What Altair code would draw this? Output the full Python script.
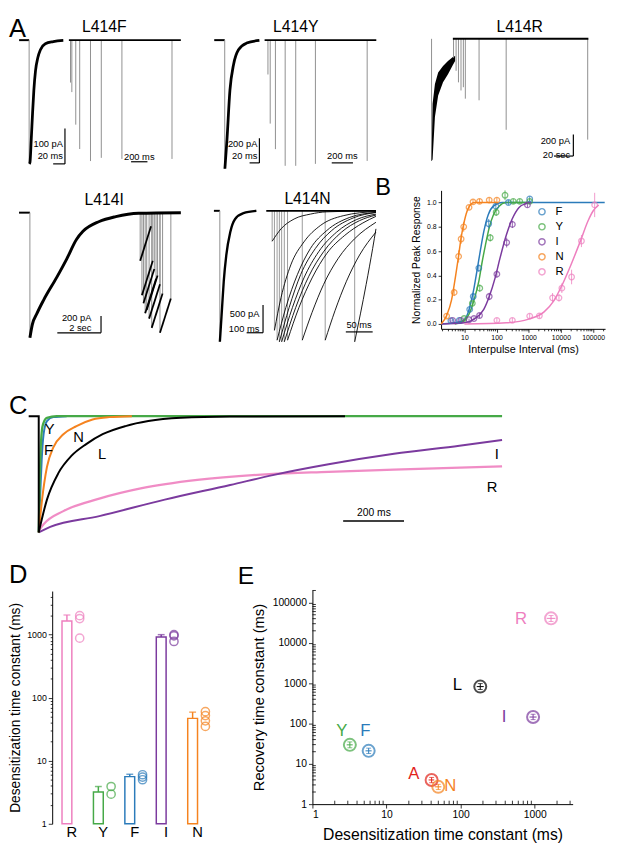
import altair as alt
import pandas as pd

FONT = "Liberation Sans"
PINK = "#ee7fbf"; GREEN = "#46a947"; BLUE = "#2b7bba"; PURPLE = "#7b3a9e"
ORANGE = "#f5831f"; RED = "#e2231a"; GRAY = "#8f8f8f"; BLACK = "#000000"

# ================= DATA =================
# ---- A: L414F (initial: ms / pA ; recovery: ms / pA)
F_base_t = [-17, 0]
F_peak = -350
F_dec_t = [0.3, 1.4, 3.6, 5.8, 8.0, 10.8, 14.7, 19.2, 27.5, 41, 58]
F_dec_pA = [-350, -346, -281, -207, -142, -87, -50, -27, -10, -4, -1]
F_rec_base_t = [0, 1368]
F_rec_on = [20, 36, 84, 132, 264, 396, 648, 1260]
F_rec_pk = [-120, -147, -239, -308, -342, -333, -336, -336]

# ---- A: L414Y
Y_base_t = [-21.4, 0]
Y_peak = -1048
Y_dec_t = [0.3, 4.6, 10.6, 18, 28, 44.6, 70.6]
Y_dec_pA = [-1048, -808, -408, -198, -78, -24, -2]
Y_rec_base_t = [0, 1053]
Y_rec_on = [31.5, 52.8, 102, 194, 293.5, 479, 967]
Y_rec_pk = [-280, -680, -888, -1024, -1024, -1008, -984]

# ---- A: L414R (initial: s ; recovery: s)
R_peak = -1130
R_env_t = [0, 0.13, 0.43, 0.84, 1.46, 2.09, 2.71, 3.0]
R_env_hi = [-1130, -600, -418, -312, -251, -205, -169, -160]
R_env_lo = [-1130, -1116, -721, -524, -403, -327, -242, -205]
R_rec_base_t = [0, 138]
R_rec_on = [0.7, 3.3, 5.7, 8.3, 10.7, 12.7, 26.7, 54.3, 137.3]
R_rec_pk = [-175, -296, -403, -478, -448, -554, -569, -842, -933]

# ---- A: L414I (s / pA)
I_base_t = [-0.5, 0]
I_peak = -1498
I_dec_t = [0, 0.11, 0.33, 0.63, 1.24, 1.69, 2.14, 2.44, 3.19, 3.95, 5.0, 6.94]
I_dec_pA = [-1498, -1341, -1204, -1047, -772, -556, -321, -224, -106, -47, -7, 0]
I_rec_on = [5.07, 5.15, 5.22, 5.30, 5.37, 5.48, 5.60, 5.98]
I_rec_pk = [-576, -988, -1086, -1204, -1165, -1269, -1380, -1439]
I_rec_off = [5.57, 5.65, 5.72, 5.80, 5.87, 5.98, 6.10, 6.48]
I_rec_end = [-164, -576, -674, -792, -753, -857, -968, -1027]

# ---- A: L414N (ms / pA)
N_base_t = [-36, 0]
N_peak = -2351
N_dec_t = [0.3, 3.6, 13.8, 24, 39.5, 63.5, 93.4, 144, 223]
N_dec_pA = [-2351, -2205, -1734, -1265, -794, -383, -146, -41, 0]
N_rec_base_t = [0, 206.8]
N_sw_t = [
    [11.1, 27.8, 52.5, 83.3, 114.2, 206.8],
    [15.4, 27.8, 46.3, 71.0, 101.9, 145.0, 206.8],
    [20.4, 37.0, 58.6, 83.3, 114.2, 157.4, 206.8],
    [24.7, 43.2, 64.8, 92.6, 123.5, 163.6, 206.8],
    [29.0, 49.4, 71.0, 98.8, 132.7, 169.8, 206.8],
    [34.0, 55.6, 80.2, 108.0, 142.0, 175.9, 206.8],
    [40.1, 61.7, 86.4, 114.2, 148.0, 182.1, 206.8],
    [67.9, 86.4, 108.0, 135.8, 166.7, 206.8],
    [111.1, 129.6, 151.2, 175.9, 206.8],
    [166.7, 188.3, 200.6, 206.8],
]
N_sw_pA = [
    [-547, -324, -147, -59, -18, 0],
    [-2147, -1559, -971, -559, -265, -88, -12],
    [-2324, -1735, -1147, -676, -353, -118, -29],
    [-2353, -1735, -1147, -676, -353, -129, -29],
    [-2353, -1735, -1206, -735, -382, -159, -59],
    [-2353, -1735, -1176, -735, -382, -176, -76],
    [-2324, -1735, -1206, -765, -441, -218, -100],
    [-2324, -1824, -1324, -853, -500, -206],
    [-2324, -1794, -1265, -794, -382],
    [-2353, -1324, -676, -324],
]

# ---- B: recovery from desensitization
B_series = ["F", "Y", "I", "N", "R"]
B_colors = [BLUE, GREEN, PURPLE, ORANGE, PINK]
B_x = {
    "F": [3.8, 6.9, 14.6, 18.8, 28, 57, 95, 233, 1070],
    "Y": [9.8, 17.6, 30, 63.5, 97, 183, 330, 525, 1070],
    "I": [4.3, 7.7, 13.9, 19.8, 29.5, 59, 102, 206, 309, 910],
    "N": [2.8, 4.8, 6.6, 7.9, 9.5, 13.9, 18.5, 29.5, 59, 102],
    "R": [102, 309, 1070, 2140, 5500, 8700, 10700, 21500, 43500, 112000],
}
B_y = {
    "F": [0.027, 0.03, 0.12, 0.226, 0.46, 0.825, 0.97, 1.0, 1.03],
    "Y": [0.045, 0.17, 0.295, 0.71, 0.92, 1.06, 1.01, 1.01, 1.01],
    "I": [0.03, 0.03, 0.035, 0.045, 0.07, 0.226, 0.41, 0.67, 0.82, 0.98],
    "N": [0.065, 0.26, 0.556, 0.70, 0.80, 0.96, 1.005, 1.01, 1.02, 1.02],
    "R": [0.03, 0.03, 0.065, 0.067, 0.215, 0.215, 0.295, 0.387, 0.683, 0.98],
}
B_err = {
    "F": [0.01, 0.01, 0.02, 0.03, 0.03, 0.04, 0.03, 0.02, 0.02],
    "Y": [0.01, 0.02, 0.03, 0.03, 0.03, 0.04, 0.02, 0.02, 0.02],
    "I": [0.01, 0.01, 0.01, 0.01, 0.02, 0.03, 0.03, 0.04, 0.03, 0.02],
    "N": [0.02, 0.03, 0.05, 0.04, 0.04, 0.02, 0.02, 0.02, 0.02, 0.02],
    "R": [0.02, 0.02, 0.02, 0.02, 0.04, 0.03, 0.04, 0.06, 0.05, 0.10],
}
B_fit_x = {
    "F": [1.9, 8, 12, 16, 20, 25, 32, 40, 55, 80, 150, 230000],
    "Y": [5, 10, 15, 20, 28, 35, 45, 60, 80, 120, 200, 1100],
    "I": [1.9, 10, 20, 40, 60, 90, 130, 200, 300, 500, 800, 1200],
    "N": [1.9, 2.8, 4, 5, 6.5, 8, 10, 13, 20, 110],
    "R": [10, 200, 1000, 3000, 6000, 10000, 20000, 40000, 70000, 100000, 150000],
}
B_fit_y = {
    "F": [0.0, 0.02, 0.07, 0.18, 0.3, 0.45, 0.62, 0.76, 0.9, 0.97, 1.0, 1.0],
    "Y": [0.0, 0.03, 0.1, 0.2, 0.35, 0.5, 0.65, 0.8, 0.9, 0.97, 1.0, 1.0],
    "I": [0.0, 0.01, 0.04, 0.12, 0.23, 0.38, 0.55, 0.73, 0.86, 0.96, 0.99, 1.0],
    "N": [0.0, 0.07, 0.2, 0.35, 0.55, 0.72, 0.85, 0.95, 1.0, 1.0],
    "R": [0.0, 0.01, 0.04, 0.1, 0.19, 0.3, 0.48, 0.68, 0.85, 0.93, 0.98],
}

# ---- C: normalized desensitization traces (ms / normalized current)
C_L_drop_t = [-33, 0, 0]
C_L_drop_v = [0, 0, -1]
C_L_t = [0, 27, 64.5, 108, 156, 210, 285, 360, 467, 628, 1006]
C_L_v = [-1, -0.718, -0.49, -0.34, -0.24, -0.155, -0.085, -0.042, -0.014, -0.003, 0]
C_N_t = [0, 11, 27, 48, 81, 124, 177, 231, 306]
C_N_v = [-1, -0.718, -0.437, -0.268, -0.155, -0.085, -0.028, -0.008, 0]
C_Y_t = [0, 3.2, 7.7, 14, 27, 59, 1522]
C_Y_v = [-1, -0.577, -0.211, -0.07, -0.014, 0, 0]
C_F_t = [0, 4.3, 9.7, 16, 27, 48, 92]
C_F_v = [-1, -0.718, -0.38, -0.155, -0.042, -0.008, 0]
C_I_t = [0, 37.7, 199, 414, 629, 769, 952, 1167, 1382, 1522]
C_I_v = [-1, -0.953, -0.86, -0.718, -0.592, -0.507, -0.414, -0.324, -0.254, -0.205]
C_R_t = [0, 16, 81, 199, 339, 521, 758, 952, 1167, 1522]
C_R_v = [-0.986, -0.93, -0.817, -0.71, -0.62, -0.549, -0.499, -0.479, -0.459, -0.431]

# ---- D: desensitization time constants
D_cats = ["R", "Y", "F", "I", "N"]
D_colors = [PINK, GREEN, BLUE, PURPLE, ORANGE]
D_mean = [1650, 3.2, 5.6, 920, 47]
D_errtop = [2050, 3.9, 6.1, 1000, 59]
D_pt_cat = ["R", "R", "R", "Y", "Y", "F", "F", "F", "I", "I", "I", "N", "N", "N", "N"]
D_pt_val = [2000, 1800, 880, 3.9, 2.95, 6.0, 5.5, 5.0, 1000, 960, 780, 60, 52, 43, 35]

# ---- E: recovery vs desensitization
E_names = ["R", "L", "I", "Y", "F", "A", "N"]
E_colors = [PINK, BLACK, PURPLE, GREEN, BLUE, RED, ORANGE]
E_x = [1660, 184, 950, 3.2, 5.74, 40.6, 49.9]
E_y = [40700, 826, 145, 29.6, 21, 3.98, 2.69]
E_xlo = [1450, 165, 850, 2.9, 5.2, 37, 45]
E_xhi = [1900, 205, 1060, 3.5, 6.3, 44, 55]
E_ylo = [34000, 700, 125, 25, 18, 3.4, 2.3]
E_yhi = [48000, 980, 170, 35, 24.5, 4.6, 3.1]
E_lab_x = [653, 90.4, 387, 2.5, 5.19, 23.3, 72.6]
E_lab_y = [39300, 894, 145, 64.9, 64.9, 5.7, 2.84]

# ================= HELPERS =================
ONE = pd.DataFrame({"k": [0]})


def lin(dom, rng=None):
    if rng is None:
        return alt.Scale(domain=dom, nice=False, zero=False)
    return alt.Scale(domain=dom, range=rng, nice=False, zero=False)


def qx(xs, field="t"):
    return alt.X(f"{field}:Q", scale=xs, axis=None)


def qy(ys, field="v"):
    return alt.Y(f"{field}:Q", scale=ys, axis=None)


def trace(ts, vs, xs, ys, color, width, interp="linear", opacity=1.0):
    df = pd.DataFrame({"t": ts, "v": vs, "i": list(range(len(ts)))})
    return alt.Chart(df).mark_line(color=color, strokeWidth=width, interpolate=interp,
                                   opacity=opacity).encode(x=qx(xs), y=qy(ys), order="i:Q")


def multi(tl, vl, xs, ys, color, width, interp="monotone"):
    rows = []
    for g, (ts, vs) in enumerate(zip(tl, vl)):
        for i, (t, v) in enumerate(zip(ts, vs)):
            rows.append({"g": g, "i": i, "t": t, "v": v})
    df = pd.DataFrame(rows)
    return alt.Chart(df).mark_line(color=color, strokeWidth=width, interpolate=interp).encode(
        x=qx(xs), y=qy(ys), detail="g:N", order="i:Q")


def drops(ts, vs, xs, ys, color=GRAY, width=1.0):
    df = pd.DataFrame({"t": ts, "v": vs})
    return alt.Chart(df).mark_rule(color=color, strokeWidth=width).encode(
        x=qx(xs), y=qy(ys), y2=alt.Y2Datum(datum=0))


def segs(t, t2, v, v2, xs, ys, color=BLACK, width=1.2):
    df = pd.DataFrame({"t": t, "t2": t2, "v": v, "v2": v2})
    return alt.Chart(df).mark_rule(color=color, strokeWidth=width).encode(
        x=qx(xs), x2="t2:Q", y=qy(ys), y2="v2:Q")


def labels(words, ts, vs, xs, ys, size, align="center", color=BLACK):
    df = pd.DataFrame({"s": words, "t": ts, "v": vs})
    return alt.Chart(df).mark_text(fontSize=size, align=align, baseline="middle", color=color,
                                   font=FONT).encode(x=qx(xs), y=qy(ys), text="s:N")


def fixed_text(s, px, py, size, align="center", color=BLACK):
    return alt.Chart(ONE).mark_text(text=s, fontSize=size, align=align, baseline="middle",
                                    color=color, font=FONT).encode(x=alt.value(px), y=alt.value(py))


def band(ts, lo, hi, xs, ys, color):
    df = pd.DataFrame({"t": ts, "lo": lo, "hi": hi})
    return alt.Chart(df).mark_area(color=color).encode(x=qx(xs), y=qy(ys, "lo"), y2="hi:Q")


def panel(layers, w, h):
    return alt.layer(*layers).resolve_scale(x="independent", y="independent").properties(width=w, height=h)


def spacer(w, h):
    return alt.Chart(ONE).mark_point(opacity=0, size=1).encode(
        x=alt.value(w / 2), y=alt.value(h / 2)).properties(width=w, height=h)


# Layout: top-level flush vconcat; nested rows take no height, so rows 2 and C
# carry their vertical offset inside their own y-scale ranges.
R2 = 157          # row-2 top (px from chart top)
R3 = 362          # row-3 top
R4H = 552         # height of C block -> row 4 starts here

# ================= PANEL A =================
FXI = lin([-34.2, 285.8]); FXR = lin([-732, 1572]); FY = lin([-369.4, 66.7])
pF = panel([
    trace(F_base_t, [0, 0], FXI, FY, BLACK, 2),
    drops([0], [F_peak], FXI, FY, GRAY, 1),
    trace(F_dec_t, F_dec_pA, FXI, FY, BLACK, 2.8, "monotone"),
    drops(F_rec_on, F_rec_pk, FXR, FY, GRAY, 1),
    trace(F_rec_base_t, [0, 0], FXR, FY, BLACK, 2),
    segs([60.8, 40.8], [60.8, 60.8], [-250, -350], [-350, -350], FXI, FY),
    segs([760], [960], [-344], [-344], FXR, FY),
    labels(["100 pA", "20 ms"], [57.5, 57.5], [-293, -328], FXI, FY, 9.5, "right"),
    labels(["200 ms"], [860], [-330], FXR, FY, 9.5),
    fixed_text("L414F", 97, 11, 16),
    fixed_text("A", 0, 13, 26, "left"),
], 192, 157)

YXI = lin([-55.4, 364.6]); YXR = lin([-632.4, 1312]); YY = lin([-1064, 192])
pY = panel([
    trace(Y_base_t, [0, 0], YXI, YY, BLACK, 2),
    drops([0], [Y_peak], YXI, YY, GRAY, 1),
    trace(Y_dec_t, Y_dec_pA, YXI, YY, BLACK, 2.8, "monotone"),
    drops(Y_rec_on, Y_rec_pk, YXR, YY, GRAY, 1),
    trace(Y_rec_base_t, [0, 0], YXR, YY, BLACK, 2),
    segs([70.6, 50.6], [70.6, 70.6], [-800, -1000], [-1000, -1000], YXI, YY),
    segs([633], [833], [-1000], [-1000], YXR, YY),
    labels(["200 pA", "20 ms"], [66.6, 66.6], [-844, -948], YXI, YY, 9.5, "right"),
    labels(["200 ms"], [733], [-944], YXR, YY, 9.5),
    fixed_text("L414Y", 100, 11, 16),
], 210, 157)

RXI = lin([-3.54, 21.34]); RXR = lin([-50, 149]); RY = lin([-1221, 206])
pR = panel([
    drops([0], [R_peak], RXI, RY, GRAY, 1),
    band(R_env_t, R_env_lo, R_env_hi, RXI, RY, BLACK),
    drops(R_rec_on, R_rec_pk, RXR, RY, GRAY, 1),
    trace(R_rec_base_t, [0, 0], RXR, RY, BLACK, 2),
    segs([122.7, 103], [122.7, 122.7], [-885, -1085], [-1085, -1085], RXR, RY),
    labels(["200 pA", "20 sec"], [119.5, 119.5], [-948, -1075], RXR, RY, 9.5, "right"),
    fixed_text("L414R", 118, 11, 16),
], 199, 157)

IX = lin([-0.962, 7.707]); IY = lin([-1909, 502], [R3, R2])
pI = panel([
    trace(I_base_t, [0, 0], IX, IY, BLACK, 2),
    drops([0], [I_peak], IX, IY, GRAY, 1),
    drops(I_rec_on, I_rec_pk, IX, IY, GRAY, 1),
    drops(I_rec_off, I_rec_end, IX, IY, GRAY, 1),
    segs(I_rec_on, I_rec_off, I_rec_pk, I_rec_end, IX, IY, BLACK, 1.8),
    trace(I_dec_t, I_dec_pA, IX, IY, BLACK, 3, "monotone"),
    segs([3.27, 1.26], [3.27, 3.27], [-1239, -1439], [-1439, -1439], IX, IY),
    labels(["200 pA", "2 sec"], [2.83, 2.83], [-1262, -1380], IX, IY, 9.5, "right"),
    fixed_text("L414I", 97, R2 + 30, 16),
], 192, R3)

NXI = lin([-135.9, 1001.8]); NXR = lin([-129.6, 222.2]); NY = lin([-2896, 720], [R3, R2])
pN = panel([
    trace(N_base_t, [0, 0], NXI, NY, BLACK, 2),
    drops([0], [N_peak], NXI, NY, GRAY, 1),
    trace(N_dec_t, N_dec_pA, NXI, NY, BLACK, 2.4, "monotone"),
    drops([s[0] for s in N_sw_t], [s[0] for s in N_sw_pA], NXR, NY, GRAY, 0.9),
    multi(N_sw_t, N_sw_pA, NXR, NY, BLACK, 0.9),
    trace(N_rec_base_t, [0, 0], NXR, NY, BLACK, 1.8),
    segs([263.5, 163.5], [263.5, 263.5], [-1691, -2190], [-2190, -2190], NXI, NY),
    segs([150], [200.6], [-2175], [-2175], NXR, NY),
    labels(["500 pA", "100 ms"], [241, 241], [-1855, -2120], NXI, NY, 9.5, "right"),
    labels(["50 ms"], [175], [-2051], NXR, NY, 9.5),
    fixed_text("L414N", 112, R2 + 29, 16),
], 190, R3)

# ================= PANEL B =================
pts_rows, fit_rows = [], []
for s in B_series:
    for x, y, e in zip(B_x[s], B_y[s], B_err[s]):
        pts_rows.append({"s": s, "x": x, "y": y, "lo": y - e, "hi": y + e})
    for i, (x, y) in enumerate(zip(B_fit_x[s], B_fit_y[s])):
        fit_rows.append({"s": s, "x": x, "y": y, "i": i})
B_pts = pd.DataFrame(pts_rows)
B_fit = pd.DataFrame(fit_rows)

B_dec = "indexof([10,100,1000,10000,100000], datum.value) >= 0"
B_xvals = [m * 10 ** k for k in range(0, 6) for m in range(1, 10) if 2 <= m * 10 ** k <= 200000]
B_xaxis = alt.Axis(title="Interpulse Interval (ms)", values=B_xvals,
                   labelExpr=f"{B_dec} ? format(datum.value, 'd') : ''",
                   tickSize={"condition": {"test": B_dec, "value": 3.5}, "value": 2},
                   labelFontSize=7, titleFontSize=11, labelPadding=1, titlePadding=4,
                   tickWidth=0.8, domainWidth=1)
B_yaxis = alt.Axis(title="Normalized Peak Response", values=[0, 0.2, 0.4, 0.6, 0.8, 1.0], format=".1f",
                   tickSize=3, labelFontSize=7, titleFontSize=10.5, labelPadding=2, titlePadding=5,
                   tickWidth=0.8, domainWidth=1)
B_TOP = R2 + 20
B_H = R2 + 161
B_xs = alt.Scale(type="log", domain=[1.88, 236000], nice=False)
B_ys = alt.Scale(domain=[-0.04, 1.1], range=[B_H, B_TOP], nice=False, zero=False)
B_col = alt.Color("s:N", scale=alt.Scale(domain=B_series, range=B_colors),
                  legend=alt.Legend(title=None, orient="none", legendX=97, legendY=B_TOP + 16,
                                    symbolType="circle", symbolSize=40, symbolStrokeWidth=1.5,
                                    symbolFillColor="white", labelFontSize=11.5, labelOffset=8,
                                    rowPadding=2.3, padding=0, labelFont=FONT))


def bx(f="x"):
    return alt.X(f"{f}:Q", scale=B_xs, axis=B_xaxis)


def by(f="y"):
    return alt.Y(f"{f}:Q", scale=B_ys, axis=B_yaxis)


pB = alt.layer(
    alt.Chart(B_fit).mark_line(strokeWidth=1.5, interpolate="monotone").encode(
        x=bx(), y=by(), color=B_col, order="i:Q"),
    alt.Chart(B_pts).mark_rule(strokeWidth=0.8).encode(x=bx(), y=by("lo"), y2="hi:Q", color=B_col),
    alt.Chart(B_pts).mark_point(shape="circle", size=32, strokeWidth=1.3, filled=False).encode(
        x=bx(), y=by(), color=B_col),
    fixed_text("B", -67, B_TOP - 2, 24, "left"),
).properties(width=167, height=B_H)

# ================= PANEL C =================
CX = lin([-97.7, 1841]); CY = lin([-1.226, 0.380], [R4H, R3])
pC = panel([
    trace(C_R_t, C_R_v, CX, CY, PINK, 2.3, "monotone", 0.9),
    trace(C_I_t, C_I_v, CX, CY, PURPLE, 2, "monotone"),
    trace(C_F_t, C_F_v, CX, CY, BLUE, 2, "monotone"),
    trace(C_Y_t, C_Y_v, CX, CY, GREEN, 2.3, "monotone"),
    trace(C_N_t, C_N_v, CX, CY, ORANGE, 2, "monotone"),
    trace(C_L_drop_t, C_L_drop_v, CX, CY, BLACK, 2),
    trace(C_L_t, C_L_v, CX, CY, BLACK, 2, "monotone"),
    labels(["Y", "F", "N", "L", "I", "R"], [35.5, 32, 131, 208, 1505, 1489],
           [-0.112, -0.29, -0.183, -0.33, -0.324, -0.611], CX, CY, 15),
    segs([1000], [1200], [-0.902], [-0.902], CX, CY, BLACK, 1.3),
    labels(["200 ms"], [1101], [-0.837], CX, CY, 10.5),
    fixed_text("C", 0, R3 + 35, 26, "left"),
], 601, R4H)

# ================= PANEL D =================
D_bars = pd.DataFrame({"c": D_cats, "m": D_mean, "e": D_errtop, "base": [1] * len(D_cats)})
D_pts = pd.DataFrame({"c": D_pt_cat, "v": D_pt_val})
D_dec = "indexof([1,10,100,1000], datum.value) >= 0"
D_vals = [m * 10 ** k for k in range(0, 4) for m in range(1, 10) if m * 10 ** k <= 4000]
D_yaxis = alt.Axis(title="Desensitization time constant (ms)", values=D_vals,
                   labelExpr=f"{D_dec} ? format(datum.value, 'd') : ''",
                   tickSize={"condition": {"test": D_dec, "value": 4}, "value": 2},
                   labelFontSize=9, titleFontSize=14, labelPadding=2, titlePadding=4,
                   tickWidth=0.8, domainWidth=1)
D_xs = alt.Scale(domain=D_cats, paddingInner=0, paddingOuter=0.125)
D_xaxis = alt.Axis(title=None, domain=False, ticks=False, tickSize=0, labelAngle=0,
                   labelFontSize=15, labelPadding=1)
D_ys = alt.Scale(type="log", domain=[1, 4920], range=[270, 33], nice=False)
D_cs = alt.Scale(domain=D_cats, range=D_colors)


def dx():
    return alt.X("c:N", scale=D_xs, axis=D_xaxis)


def dy(f):
    return alt.Y(f"{f}:Q", scale=D_ys, axis=D_yaxis)


pD = alt.layer(
    alt.Chart(D_bars).mark_bar(width=10, xOffset=-5, fill="white", strokeWidth=1.5).encode(
        x=dx(), y=dy("m"), y2="base:Q", stroke=alt.Stroke("c:N", scale=D_cs, legend=None)),
    alt.Chart(D_bars).mark_rule(xOffset=-5, strokeWidth=1.5).encode(
        x=dx(), y=dy("m"), y2="e:Q", color=alt.Color("c:N", scale=D_cs, legend=None)),
    alt.Chart(D_bars).mark_tick(xOffset=-5, size=7, thickness=1.5, orient="horizontal").encode(
        x=dx(), y=dy("e"), color=alt.Color("c:N", scale=D_cs, legend=None)),
    alt.Chart(D_pts).mark_point(xOffset=8, shape="circle", size=70, strokeWidth=1.5, filled=False).encode(
        x=dx(), y=dy("v"), color=alt.Color("c:N", scale=D_cs, legend=None)),
    fixed_text("D", -44, 17, 26, "left"),
).properties(width=168, height=270)

# ================= PANEL E =================
E_df = pd.DataFrame({"n": E_names, "x": E_x, "y": E_y, "xlo": E_xlo, "xhi": E_xhi,
                     "ylo": E_ylo, "yhi": E_yhi, "lx": E_lab_x, "ly": E_lab_y})
E_xs = alt.Scale(type="log", domain=[1, 3250], nice=False)
E_ys = alt.Scale(type="log", domain=[1, 205000], range=[250, 32], nice=False)
E_xaxis = alt.Axis(title="Desensitization time constant (ms)", values=[1, 10, 100, 1000], format="d",
                   tickSize=4, labelFontSize=10.5, titleFontSize=16, labelPadding=2, titlePadding=7,
                   tickWidth=0.8, domainWidth=1)
E_yaxis = alt.Axis(title="Recovery time constant (ms)", values=[1, 10, 100, 1000, 10000, 100000],
                   format="d", tickSize=4, labelFontSize=10.5, titleFontSize=15, labelPadding=2,
                   titlePadding=6, tickWidth=0.8, domainWidth=1)
E_cs = alt.Scale(domain=E_names, range=E_colors)
E_xminor = [m * 10 ** k for k in range(0, 4) for m in range(2, 10) if m * 10 ** k <= 3250]
E_yminor = [m * 10 ** k for k in range(0, 6) for m in range(2, 10) if m * 10 ** k <= 205000]


def ex(f="x"):
    return alt.X(f"{f}:Q", scale=E_xs, axis=E_xaxis)


def ey(f="y"):
    return alt.Y(f"{f}:Q", scale=E_ys, axis=E_yaxis)


E_col = alt.Color("n:N", scale=E_cs, legend=None)
pE = alt.layer(
    alt.Chart(pd.DataFrame({"x": E_xminor})).mark_rule(color=BLACK, strokeWidth=0.8).encode(
        x=ex("x"), y=alt.value(250), y2=alt.value(246.5)),
    alt.Chart(pd.DataFrame({"y": E_yminor})).mark_rule(color=BLACK, strokeWidth=0.8).encode(
        y=ey("y"), x=alt.value(0), x2=alt.value(3.5)),
    alt.Chart(E_df).mark_rule(strokeWidth=1).encode(x=ex("xlo"), x2="xhi:Q", y=ey(), color=E_col),
    alt.Chart(E_df).mark_rule(strokeWidth=1).encode(x=ex(), y=ey("ylo"), y2="yhi:Q", color=E_col),
    alt.Chart(E_df).mark_tick(size=5, thickness=1, orient="horizontal").encode(x=ex(), y=ey("ylo"), color=E_col),
    alt.Chart(E_df).mark_tick(size=5, thickness=1, orient="horizontal").encode(x=ex(), y=ey("yhi"), color=E_col),
    alt.Chart(E_df).mark_point(shape="circle", size=150, strokeWidth=2, filled=False).encode(
        x=ex(), y=ey(), color=E_col),
    alt.Chart(E_df).mark_text(fontSize=17, font=FONT, baseline="middle").encode(
        x=ex("lx"), y=ey("ly"), text="n:N", color=E_col),
    fixed_text("E", -76, 18, 25, "left"),
).properties(width=265, height=250)

# ================= LAYOUT =================
IND = dict(color="independent", stroke="independent")
row1 = alt.hconcat(pF, pY, pR, spacing=0, bounds="flush")
row2 = alt.hconcat(pI, pN, spacer(58, 100), pB, spacing=0, bounds="flush").resolve_scale(**IND)
row4 = alt.hconcat(spacer(44, 270), pD, spacer(97, 270), pE,
                   spacing=0, bounds="flush").resolve_scale(**IND)

chart = alt.vconcat(row1, row2, pC, row4, spacing=0, bounds="flush").resolve_scale(**IND).properties(
    padding=0
).configure_view(stroke="transparent").configure_axis(
    labelFont=FONT, titleFont=FONT, labelColor="black", titleColor="black",
    domainColor="black", tickColor="black", titleFontWeight="normal", grid=False
).configure_text(font=FONT).configure_legend(labelFont=FONT)

chart.save("out.html", embed_options={"renderer": "svg", "actions": False})
